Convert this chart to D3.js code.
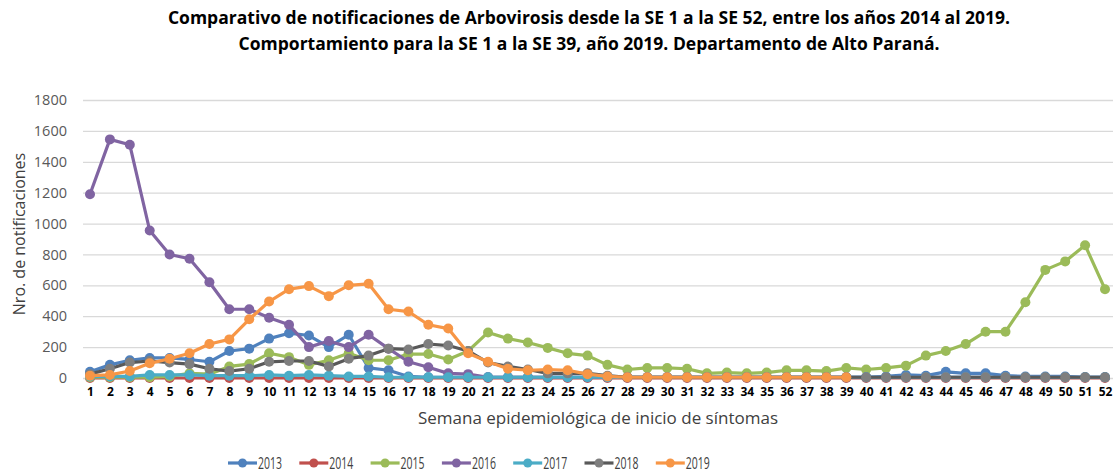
<!DOCTYPE html>
<html>
<head>
<meta charset="utf-8">
<script src="https://cdn.jsdelivr.net/npm/d3@7"></script>
<style>
  body { margin: 0; background: #fff; }
  svg { display: block; font-family: "Open Sans", "Noto Sans", sans-serif; }
</style>
</head>
<body>
<div id="chart"></div>
<script>
// ----- datos
var semanas = d3.range(1, 53);
var anios = ["2013", "2014", "2015", "2016", "2017", "2018", "2019"];
var colores = ["#4f81bd", "#c0504d", "#9bbb59", "#8064a2", "#4bacc6", "#7f7f7f", "#f79646"];
var coloresLinea = ["#4f81bd", "#c0504d", "#9bbb59", "#8064a2", "#4bacc6", "#595959", "#f79646"];
var yTicks = [0, 200, 400, 600, 800, 1000, 1200, 1400, 1600, 1800];

var s2013 = [40, 85, 115, 130, 130, 120, 105, 175, 190, 255, 290, 275, 200, 280, 65, 50, 10, 5, 5, 5,
             5, 5, 5, 5, 5, 5, 5, 5, 5, 5, 5, 5, 5, 5, 5, 5, 5, 5, 5, 5,
             10, 20, 15, 40, 30, 30, 15, 10, 10, 10, 5, 5];
var s2014 = [0, 0, 0, 0, 0, 0, 0, 0, 0, 0, 0, 0, 0, 0, 0, 0, 0, 0, 0, 0,
             0, 0, 0, 0, 0, 0, 0, 0, 0, 0, 0, 0, 0, 0, 0, 0, 0, 0, 0, 0,
             0, 0, 0, 0, 0, 0, 0, 0, 0, 0, 0, 0];
var s2015 = [5, 5, 5, 5, 10, 30, 25, 75, 90, 160, 135, 85, 115, 160, 115, 115, 155, 155, 120, 175,
             295, 255, 230, 195, 160, 145, 85, 55, 65, 65, 60, 30, 35, 30, 35, 50, 50, 45, 65, 55,
             65, 80, 145, 175, 220, 300, 300, 490, 700, 755, 860, 575];
var s2016 = [1190, 1545, 1510, 955, 800, 772, 620, 445, 445, 390, 345, 200, 240, 200, 280, 190, 105, 70, 30, 25,
             5, 5, 5, 5, 5, 5, 5, 5, 5, 5, 5, 5, 5, 5, 5, 5, 5, 5, 5, 5,
             5, 5, 5, 5, 5, 5, 5, 5, 5, 5, 5, 5];
var s2017 = [10, 10, 10, 20, 20, 20, 15, 15, 15, 20, 15, 20, 15, 10, 10, 5, 5, 5, 5, 5,
             5, 5, 5, 5, 5, 5, 5, 5, 5, 5, 5, 5, 5, 5, 5, 5, 5, 5, 5, 5,
             5, 5, 5, 5, 5, 5, 5, 5, 5, 5, 5, 5];
var s2018 = [25, 60, 100, 110, 100, 90, 60, 45, 60, 105, 110, 110, 75, 125, 145, 190, 185, 220, 210, 175,
             100, 75, 55, 30, 30, 30, 15, 5, 5, 5, 5, 5, 5, 5, 5, 5, 5, 5, 5, 5,
             5, 5, 5, 5, 5, 5, 5, 5, 5, 5, 5, 5];
var s2019 = [15, 20, 45, 95, 125, 160, 220, 250, 380, 495, 575, 595, 530, 600, 610, 445, 430, 345, 320, 160,
             105, 60, 50, 55, 50, 25, 10, 5, 5, 5, 5, 5, 5, 5, 5, 5, 5, 5, 5];
var series = [s2013, s2014, s2015, s2016, s2017, s2018, s2019];

// ----- dimensiones
var W = 1113, H = 472;
var margin = {left: 83, right: 0, top: 100, bottom: 94};
var yBase = H - margin.bottom;

var svg = d3.select("#chart").append("svg").attr("width", W).attr("height", H);

var x = d3.scalePoint().domain(semanas).range([90, 1105]);
var y = d3.scaleLinear().domain([0, 1800]).range([yBase, margin.top]);

//----------- titulo
var titulo = svg.append("text").attr("text-anchor", "middle")
  .attr("font-weight", "bold").attr("font-size", 17.5).attr("fill", "#000");
titulo.append("tspan").attr("x", 589).attr("y", 24)
  .text("Comparativo de notificaciones de Arbovirosis desde la SE 1 a la SE 52, entre los años 2014 al 2019.");
titulo.append("tspan").attr("x", 589).attr("y", 50)
  .text("Comportamiento para la SE 1 a la SE 39, año 2019. Departamento de Alto Paraná.");

//----------- grilla y eje y
var yAxis = svg.append("g").attr("transform", "translate(" + margin.left + ",0)")
  .call(d3.axisLeft(y).tickValues(yTicks).tickFormat(d3.format("d"))
    .tickSize(-(W - margin.left)).tickPadding(16));
yAxis.select(".domain").remove();
yAxis.selectAll(".tick line").attr("stroke", "#d9d9d9").attr("stroke-width", 1.3);
yAxis.selectAll(".tick text").attr("font-size", 14.5).attr("fill", "#595959")
  .attr("font-family", "\"Open Sans\", sans-serif");

//----------- eje x
var xAxis = svg.append("g").attr("transform", "translate(0," + yBase + ")")
  .call(d3.axisBottom(x).tickSize(0).tickPadding(9));
xAxis.select(".domain").remove();
xAxis.selectAll(".tick text").attr("font-size", 12).attr("font-weight", "bold")
  .attr("fill", "#000").attr("font-family", "\"Open Sans\", sans-serif");

//----------- titulos de ejes
svg.append("text").attr("x", 598).attr("y", 424).attr("text-anchor", "middle")
  .attr("font-size", 17).attr("fill", "#404040")
  .text("Semana epidemiológica de inicio de síntomas");
svg.append("text").attr("transform", "translate(25,234) rotate(-90)")
  .attr("text-anchor", "middle").attr("font-size", 16).attr("fill", "#404040")
  .text("Nro. de notificaciones");

//----------- lineas y marcadores
var line = d3.line().x(function (d, i) { return x(semanas[i]); }).y(function (d) { return y(d); });

series.forEach(function (serie, k) {
  var g = svg.append("g").attr("class", "serie-" + anios[k]);
  g.append("path").datum(serie).attr("d", line).attr("fill", "none")
    .attr("stroke", coloresLinea[k]).attr("stroke-width", 3.2).attr("stroke-linejoin", "round");
  g.selectAll("circle").data(serie).enter().append("circle")
    .attr("cx", function (d, i) { return x(semanas[i]); })
    .attr("cy", function (d) { return y(d); })
    .attr("r", 5).attr("fill", colores[k]);
});

//----------- leyenda
var leyenda = svg.append("g").attr("transform", "translate(228,463)");
anios.forEach(function (a, k) {
  var item = leyenda.append("g").attr("transform", "translate(" + (k * 71.3) + ",0)");
  item.append("line").attr("x1", 0).attr("x2", 29).attr("y1", 0).attr("y2", 0)
    .attr("stroke", coloresLinea[k]).attr("stroke-width", 3.2);
  item.append("circle").attr("cx", 14.5).attr("cy", 0).attr("r", 4.5).attr("fill", colores[k]);
  item.append("text").attr("x", 30).attr("y", 5.5).attr("font-size", 15.5)
    .attr("textLength", 24).attr("lengthAdjust", "spacingAndGlyphs")
    .attr("fill", "#404040").text(a);
});
</script>
</body>
</html>
